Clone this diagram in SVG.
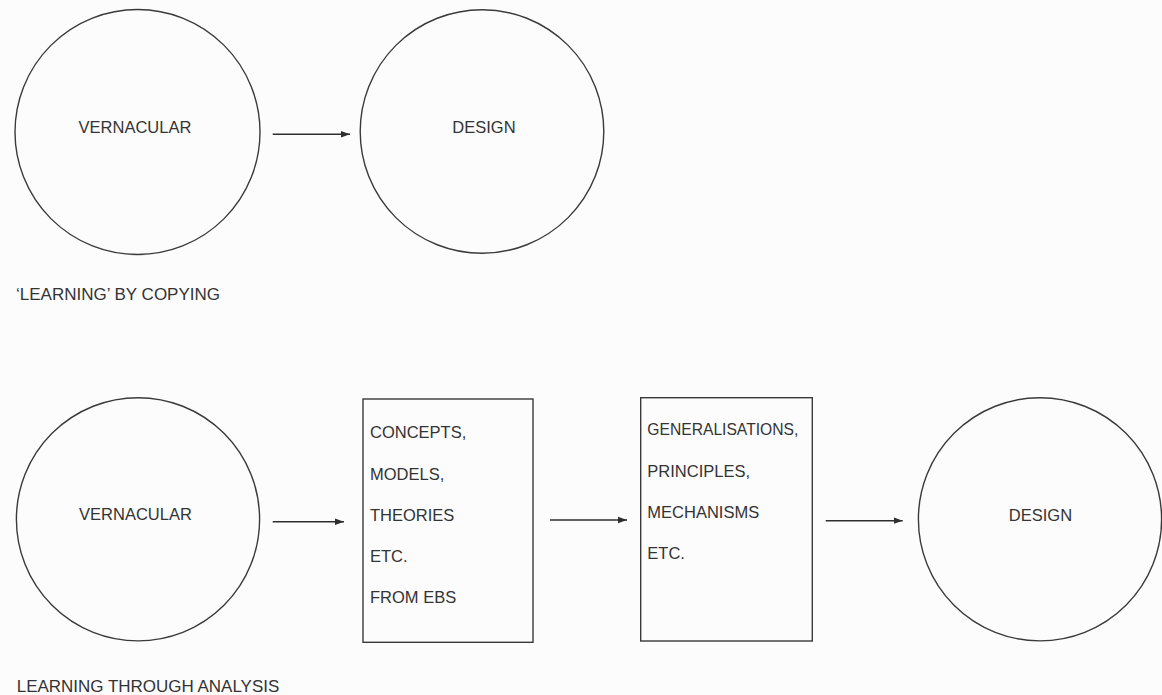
<svg xmlns="http://www.w3.org/2000/svg" width="1162" height="695" viewBox="0 0 1162 695">
  <style>
    .bg { fill: #fcfcfc; }
    .shape { fill: none; stroke: #3a3a3a; stroke-width: 1.4; }
    .link { fill: none; stroke: #2e2e2e; stroke-width: 1.5; }
    .label { font-family: "Liberation Sans", Arial, sans-serif; font-size: 16.5px; fill: #333333; }
    .mid { text-anchor: middle; }
  </style>
  <defs>
    <marker id="arrow" markerUnits="userSpaceOnUse" markerWidth="10" markerHeight="8" refX="9" refY="4" orient="auto">
      <path d="M0,0.8 L9,4 L0,7.2 Z" fill="#2e2e2e"/>
    </marker>
  </defs>

  <rect class="bg" x="0" y="0" width="1162" height="695"/>

  <!-- Row 1: learning by copying -->
  <g id="vernacular-top">
    <circle class="shape" cx="137.5" cy="132" r="122.5"/>
    <text class="label mid" x="135" y="132.5">VERNACULAR</text>
  </g>
  <g id="design-top">
    <circle class="shape" cx="482" cy="131.5" r="121.8"/>
    <text class="label mid" x="484" y="133">DESIGN</text>
  </g>
  <text id="caption-copying" class="label" x="16" y="300" textLength="204" lengthAdjust="spacingAndGlyphs">‘LEARNING’ BY COPYING</text>

  <!-- Row 2: learning through analysis -->
  <g id="vernacular-bottom">
    <circle class="shape" cx="138" cy="519.3" r="121.6"/>
    <text class="label mid" x="135.5" y="520.3">VERNACULAR</text>
  </g>
  <g id="concepts-box">
    <rect class="shape" x="363" y="399" width="170" height="243.3"/>
    <text class="label" x="370" y="438.3">CONCEPTS,</text>
    <text class="label" x="370" y="479.8">MODELS,</text>
    <text class="label" x="370" y="520.7">THEORIES</text>
    <text class="label" x="370" y="561.7">ETC.</text>
    <text class="label" x="370" y="603.3">FROM EBS</text>
  </g>
  <g id="generalisations-box">
    <rect class="shape" x="640.7" y="397.7" width="171.6" height="243.3"/>
    <text class="label" x="647.3" y="435" textLength="151" lengthAdjust="spacingAndGlyphs">GENERALISATIONS,</text>
    <text class="label" x="647.3" y="476.7">PRINCIPLES,</text>
    <text class="label" x="647.3" y="517.7">MECHANISMS</text>
    <text class="label" x="647.3" y="559">ETC.</text>
  </g>
  <g id="design-bottom">
    <circle class="shape" cx="1040" cy="519.3" r="121.6"/>
    <text class="label mid" x="1040.5" y="521">DESIGN</text>
  </g>
  <text id="caption-analysis" class="label" x="16.7" y="691.7" textLength="262.6" lengthAdjust="spacingAndGlyphs">LEARNING THROUGH ANALYSIS</text>

  <!-- Connectors -->
  <g id="connectors">
    <line class="link" x1="272.7" y1="134.3" x2="350" y2="134.3" marker-end="url(#arrow)"/>
    <line class="link" x1="272.7" y1="521.7" x2="344" y2="521.7" marker-end="url(#arrow)"/>
    <line class="link" x1="550" y1="520" x2="627" y2="520" marker-end="url(#arrow)"/>
    <line class="link" x1="825.7" y1="520.7" x2="902.7" y2="520.7" marker-end="url(#arrow)"/>
  </g>
</svg>
